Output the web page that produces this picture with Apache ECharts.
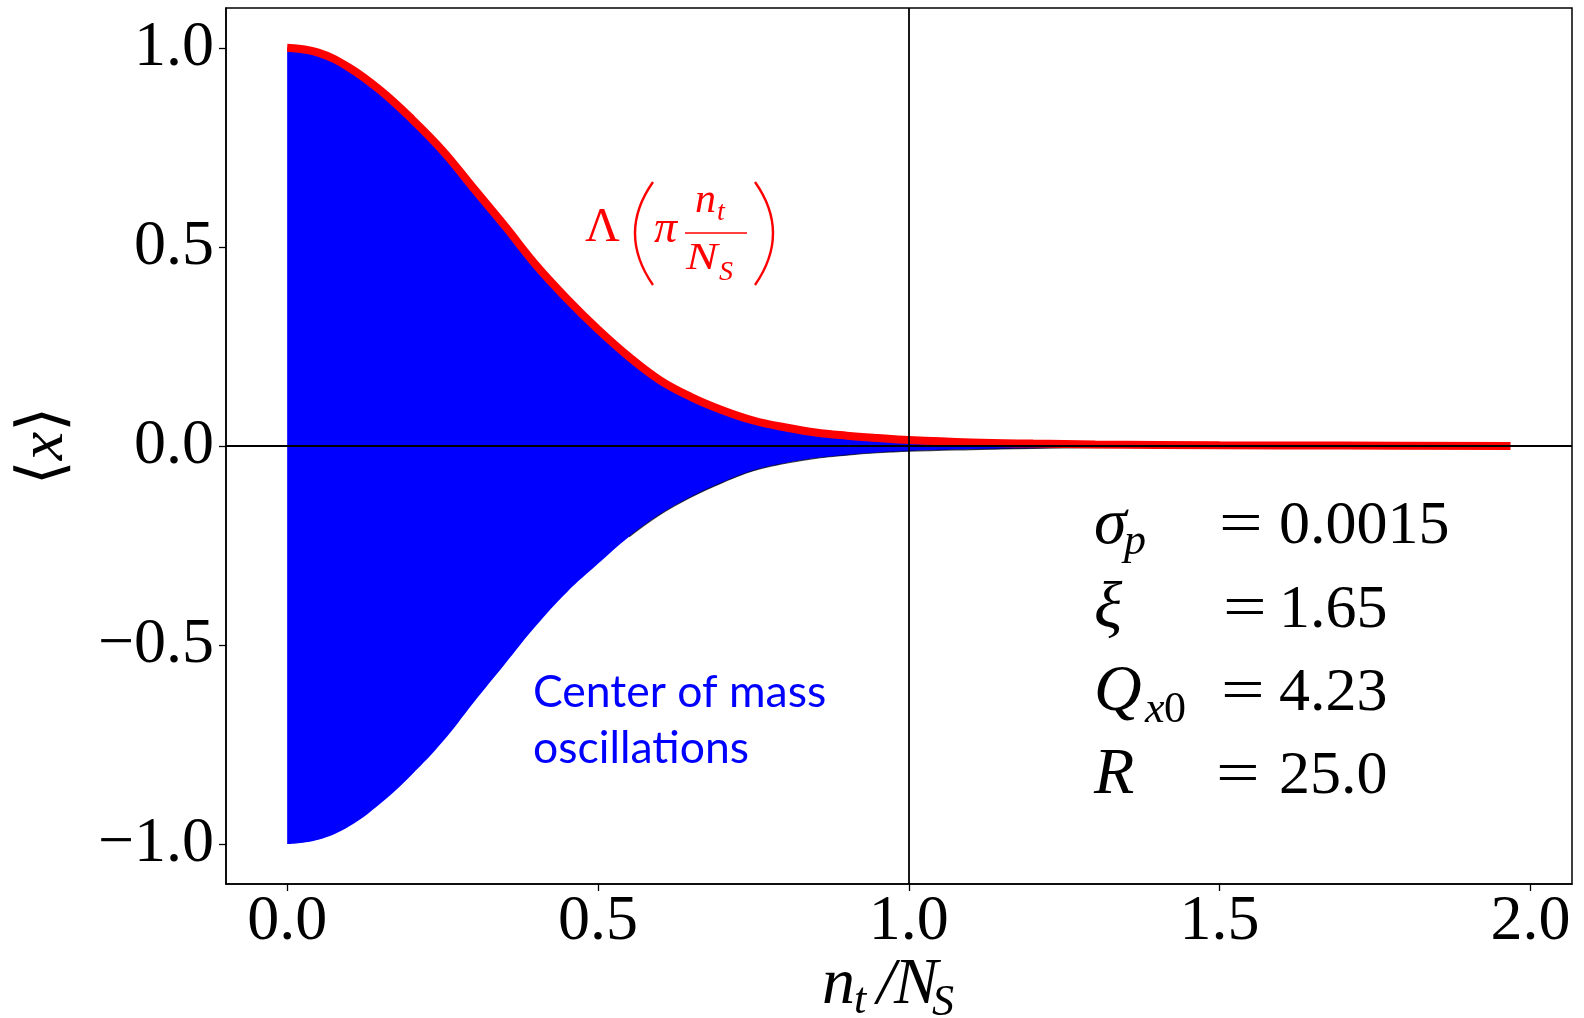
<!DOCTYPE html>
<html>
<head>
<meta charset="utf-8">
<script src="https://cdn.jsdelivr.net/npm/echarts@6.0.0/dist/echarts.min.js"></script>
<style>
html,body{margin:0;padding:0;background:#fff;}
#chart{width:1584px;height:1018px;}
</style>
</head>
<body>
<div id="chart"></div>
<script>
// ---- data ----
const nt = [0, 0.05, 0.1, 0.15, 0.2, 0.25, 0.3, 0.35, 0.4, 0.45, 0.5, 0.55, 0.6, 0.65, 0.7, 0.75, 0.8, 0.85, 0.9, 0.95, 1.0, 1.1, 1.2, 1.3, 1.5, 1.7, 1.968];
// red envelope Λ(π n_t/N_S) (also the upper edge of the blue oscillation band)
const envelope = [1.0, 0.988, 0.950, 0.893, 0.822, 0.742, 0.647, 0.553, 0.455, 0.370, 0.293, 0.224, 0.165, 0.123, 0.090, 0.064, 0.047, 0.034, 0.026, 0.020, 0.015, 0.009, 0.006, 0.004, 0.002, 0.001, 0.0];
// lower edge of the blue centre-of-mass oscillations
const lowerEdge = [-1.0, -0.989, -0.955, -0.898, -0.826, -0.743, -0.644, -0.548, -0.452, -0.367, -0.296, -0.228, -0.172, -0.128, -0.092, -0.062, -0.044, -0.031, -0.023, -0.017, -0.013, -0.009, -0.006, -0.004, -0.002, -0.001, 0.0];
const xTicks = [0, 0.5, 1.0, 1.5, 2.0];
const xTickLabels = ['0.0', '0.5', '1.0', '1.5', '2.0'];
const yTicks = [-1.0, -0.5, 0, 0.5, 1.0];
const yTickLabels = ['\u22121.0', '\u22120.5', '0.0', '0.5', '1.0'];
const params = [
  {sym: '\u03c3', sub: 'p', val: '0.0015'},
  {sym: '\u03be', sub: '', val: '1.65'},
  {sym: 'Q', sub: 'x0', val: '4.23'},
  {sym: 'R', sub: '', val: '25.0'}
];
const curveLabel = 'Center of mass\noscillations';

// ---- layout / styling ----
const SERIF = '"Liberation Serif", "DejaVu Serif", serif';
const SANS = 'Lato, "Open Sans", sans-serif';
function T(text, left, baseline, size, o) {
  o = o || {};
  const ratio = o.ratio || 0.3375;
  return {
    type: 'text', x: left, y: baseline - ratio * size, z: 100, silent: true,
    scaleX: o.sx || 1,
    style: {
      text: text, fill: o.color || '#000',
      font: (o.italic ? 'italic ' : '') + size + 'px ' + (o.family || SERIF),
      align: o.align || 'left', verticalAlign: 'middle'
    }
  };
}
const RED = '#ff0000', BLUE = '#0000ff';

const graphics = [];
// Λ(π n_t / N_S) annotation
graphics.push(T('\u039b', 585, 245, 48, {color: RED}));
graphics.push({type: 'bezierCurve', z: 100, silent: true, shape: {x1: 653, y1: 182, cpx1: 617, cpy1: 233, x2: 653, y2: 285}, style: {stroke: RED, lineWidth: 2.4, fill: null}});
graphics.push(T('\u03c0', 654, 245, 46, {color: RED, italic: true}));
graphics.push(T('n', 695, 215, 42, {color: RED, italic: true}));
graphics.push(T('t', 717, 222, 28, {color: RED, italic: true}));
graphics.push({type: 'line', z: 100, silent: true, shape: {x1: 685, y1: 233, x2: 747, y2: 233}, style: {stroke: RED, lineWidth: 1.6}});
graphics.push(T('N', 686, 272, 38, {color: RED, italic: true, sx: 1.25}));
graphics.push(T('S', 719, 282, 28, {color: RED, italic: true}));
graphics.push({type: 'bezierCurve', z: 100, silent: true, shape: {x1: 755, y1: 182, cpx1: 791, cpy1: 233, x2: 755, y2: 285}, style: {stroke: RED, lineWidth: 2.4, fill: null}});

// blue label
const cl = curveLabel.split('\n');
graphics.push(T(cl[0], 533, 710, 44.5, {color: BLUE, family: SANS, ratio: 0.387}));
graphics.push(T(cl[1], 533, 766, 44.5, {color: BLUE, family: SANS, ratio: 0.387}));

// parameter block
const pBase = [548, 632, 715, 798];
const eqX = [1219, 1223, 1221, 1216];
params.forEach(function (p, i) {
  graphics.push(T(p.sym, 1094, pBase[i], 66, {italic: true}));
  if (p.sub === 'p') graphics.push(T('p', 1124, pBase[i] + 9, 44, {italic: true}));
  if (p.sub === 'x0') {
    graphics.push(T('x', 1145, pBase[i] + 10, 44, {italic: true}));
    graphics.push(T('0', 1164, pBase[i] + 10, 44, {}));
  }
  graphics.push(T('=', eqX[i], pBase[i], 62, {sx: 1.25}));
  graphics.push(T(p.val, 1279, pBase[i], 62, {}));
});

// x-axis name n_t / N_S
graphics.push(T('n', 822, 1008, 66, {italic: true}));
graphics.push(T('t', 854, 1016, 44, {italic: true}));
graphics.push(T('/', 877, 1008, 66, {italic: true}));
graphics.push(T('N', 894, 1008, 66, {italic: true}));
graphics.push(T('S', 932, 1018, 44, {italic: true}));

// y-axis name ⟨x⟩
graphics.push({
  type: 'text', x: 45, y: 446, rotation: Math.PI / 2, z: 100, silent: true,
  style: {
    text: '{a|\u27e8}{b|x}{a|\u27e9}', align: 'center', verticalAlign: 'middle',
    rich: {
      a: {font: '64px "DejaVu Serif", "Liberation Serif", serif', fill: '#000'},
      b: {font: 'italic 64px ' + SERIF, fill: '#000'}
    }
  }
});

const chart = echarts.init(document.getElementById('chart'), null, {renderer: 'canvas'});
const pairs = (ys) => nt.map((x, i) => [x, ys[i]]);
const edgePairs = pairs(lowerEdge).filter(p => p[0] >= 0.55 && p[0] <= 1.5);
const SM = 0.4;

chart.setOption({
  animation: false,
  backgroundColor: '#fff',
  grid: {left: 226, top: 8, width: 1346, height: 876, show: true, borderColor: '#000', borderWidth: 1.5, backgroundColor: '#fff'},
  xAxis: {
    type: 'value', min: -0.0984, max: 2.0669,
    axisLine: {show: true, onZero: false, lineStyle: {color: '#000', width: 1.5}},
    axisTick: {show: true, inside: false, length: 7, customValues: xTicks, lineStyle: {color: '#000', width: 1.3}},
    axisLabel: {
      customValues: xTicks, margin: 6, color: '#000', fontSize: 64, fontFamily: SERIF,
      formatter: v => xTickLabels[xTicks.indexOf(v)]
    },
    splitLine: {show: false}
  },
  yAxis: {
    type: 'value', min: -1.1, max: 1.1,
    axisLine: {show: true, onZero: false, lineStyle: {color: '#000', width: 1.5}},
    axisTick: {show: true, inside: false, length: 7, customValues: yTicks, lineStyle: {color: '#000', width: 1.3}},
    axisLabel: {
      customValues: yTicks, margin: 12, color: '#000', fontSize: 64, fontFamily: SERIF,
      formatter: v => yTickLabels[yTicks.indexOf(v)]
    },
    splitLine: {show: false}
  },
  graphic: graphics,
  series: [
    {type: 'line', name: 'oscillation upper', data: pairs(envelope), symbol: 'none', smooth: SM,
     lineStyle: {width: 0}, areaStyle: {color: BLUE, opacity: 1}, z: 2, silent: true},
    {type: 'line', name: 'oscillation lower', data: pairs(lowerEdge), symbol: 'none', smooth: SM,
     lineStyle: {width: 0}, areaStyle: {color: BLUE, opacity: 1}, z: 2, silent: true},
    {type: 'line', name: 'edge', data: edgePairs, symbol: 'none', smooth: SM,
     lineStyle: {color: '#000', width: 1.2, opacity: 0.7}, z: 3, silent: true},
    {type: 'line', name: 'Lambda', data: pairs(envelope), symbol: 'none', smooth: SM,
     lineStyle: {color: RED, width: 8, cap: 'butt'}, z: 4, silent: true},
    {type: 'line', name: 'refs', data: [], z: 5, silent: true,
     markLine: {silent: true, symbol: ['none', 'none'], label: {show: false},
       lineStyle: {color: '#000', width: 1.8, type: 'solid'},
       data: [{yAxis: 0}, {xAxis: 1}]}}
  ]
});
</script>
</body>
</html>
